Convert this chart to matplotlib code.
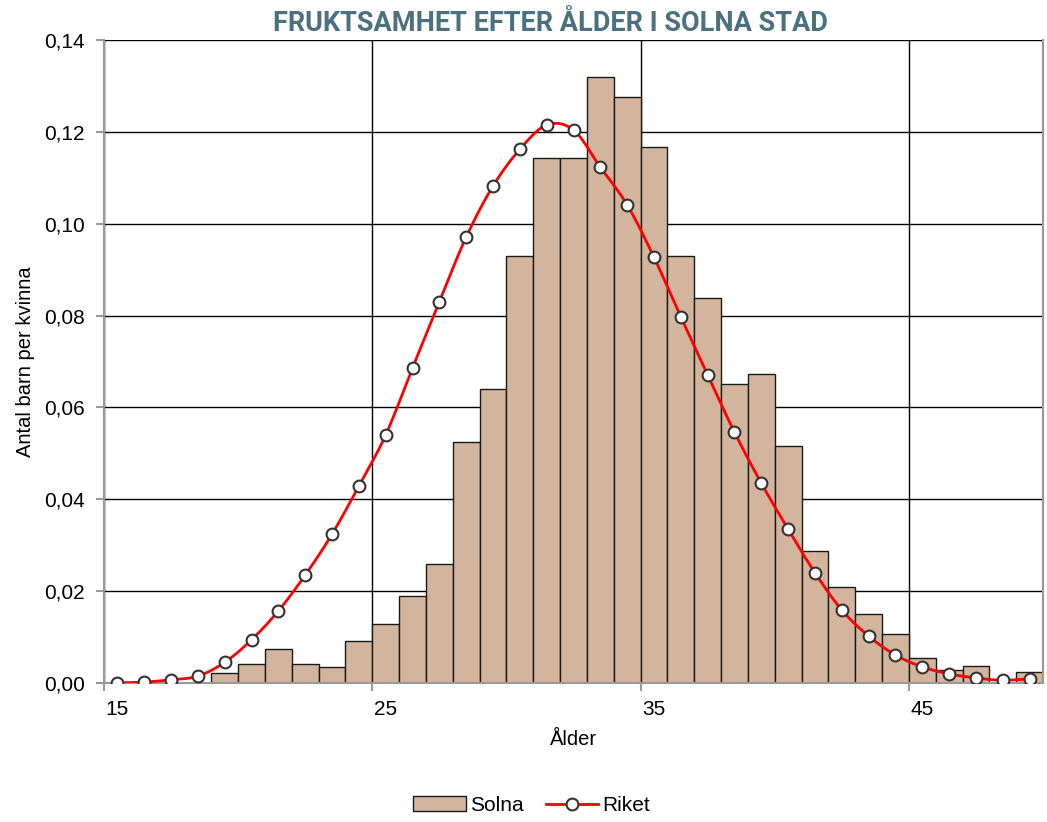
import numpy as np
import matplotlib
matplotlib.use("Agg")
import matplotlib.pyplot as plt
from matplotlib.ticker import FuncFormatter
from matplotlib.patches import Patch
from matplotlib.lines import Line2D

# data
ages = list(range(15, 50))
solna = [0.0, 0.0, 0.0, 0.0, 0.0022, 0.0041, 0.0074, 0.0041, 0.0035, 0.0091,
         0.0128, 0.0189, 0.0259, 0.0525, 0.0640, 0.0930, 0.1143, 0.1144, 0.1320, 0.1276,
         0.1167, 0.0930, 0.0838, 0.0651, 0.0673, 0.0516, 0.0287, 0.0209, 0.0150, 0.0107,
         0.0054, 0.0028, 0.0037, 0.0, 0.0024]
riket = [0.0000, 0.0002, 0.0007, 0.0015, 0.0045, 0.0094, 0.0157, 0.0235, 0.0324, 0.0429,
         0.0540, 0.0686, 0.0830, 0.0971, 0.1082, 0.1162, 0.1215, 0.1204, 0.1123, 0.1041,
         0.0927, 0.0797, 0.0671, 0.0546, 0.0435, 0.0335, 0.0240, 0.0159, 0.0102, 0.0061,
         0.0035, 0.0020, 0.0011, 0.0006, 0.0009]
label_ages = [15, 25, 35, 45]

title = "FRUKTSAMHET EFTER ÅLDER I SOLNA STAD"
narrow = ["Roboto", "DejaVu Sans"]
plain = ["Liberation Sans", "DejaVu Sans"]


def smooth(x, y, n=12):
    # catmull-rom curve through the points, like excel's smoothed line
    x = np.asarray(x, float)
    y = np.asarray(y, float)
    px = np.concatenate([[2 * x[0] - x[1]], x, [2 * x[-1] - x[-2]]])
    py = np.concatenate([[2 * y[0] - y[1]], y, [2 * y[-1] - y[-2]]])
    xs, ys = [], []
    t = np.linspace(0, 1, n, endpoint=False)
    for i in range(1, len(px) - 2):
        for p, out in ((px, xs), (py, ys)):
            p0, p1, p2, p3 = p[i - 1], p[i], p[i + 1], p[i + 2]
            out.extend(0.5 * (2 * p1 + (-p0 + p2) * t
                              + (2 * p0 - 5 * p1 + 4 * p2 - p3) * t ** 2
                              + (-p0 + 3 * p1 - 3 * p2 + p3) * t ** 3))
    xs.append(x[-1])
    ys.append(y[-1])
    return np.array(xs), np.array(ys)


fig = plt.figure(figsize=(10.47, 8.22), dpi=100)
ax = fig.add_axes([104 / 1047, 1 - 683 / 822, (1043 - 104) / 1047, (683 - 40) / 822])

ax.bar(ages, solna, width=1.0, color="#d2b59c", edgecolor="#1a1a1a", linewidth=1.0, zorder=2)
sx, sy = smooth(ages, riket)
ax.plot(sx, sy, color="#ff0000", linewidth=2, zorder=3)
ax.plot(ages, riket, linestyle="none", marker="o", markersize=8.5,
        markerfacecolor="white", markeredgecolor="#333333", markeredgewidth=1.5, zorder=4)

ax.set_xlim(14.5, 49.5)
ax.set_ylim(0, 0.14)
ax.set_yticks(np.arange(0, 0.141, 0.02))
ax.yaxis.set_major_formatter(FuncFormatter(lambda v, p: f"{v:.2f}".replace(".", ",")))
ax.set_xticks([14.5, 24.5, 34.5, 44.5])
ax.set_xticklabels([])
ax.set_xticks(label_ages, minor=True)
ax.set_xticklabels([str(a) for a in label_ages], minor=True, family=plain, fontsize=15)
ax.tick_params(axis="x", which="minor", length=0, pad=12)
ax.tick_params(axis="x", which="major", length=6, color="#999999", width=1.5)
ax.tick_params(axis="y", length=6, color="#999999", width=1.5, labelsize=15, pad=8)
for lab in ax.get_yticklabels():
    lab.set_family(plain)

ax.grid(True, which="major", color="black", linewidth=1.0, zorder=0)
ax.set_axisbelow(True)
for s in ["left", "bottom", "right"]:
    ax.spines[s].set_color("#999999")
    ax.spines[s].set_linewidth(1.5)
ax.spines["top"].set_visible(False)

ax.set_xlabel("Ålder", family=plain, fontsize=14.5, labelpad=8)
ax.set_ylabel("Antal barn per kvinna", family=plain, fontsize=14.5, labelpad=6)
fig.text(0.526, 0.972, title, ha="center", va="center", family=narrow,
         fontweight="bold", fontsize=19.5, color="#4b7080")

handles = [Patch(facecolor="#d2b59c", edgecolor="#1a1a1a", linewidth=1.0),
           Line2D([], [], color="#ff0000", linewidth=2, marker="o", markersize=8.5,
                  markerfacecolor="white", markeredgecolor="#333333", markeredgewidth=1.5)]
fig.legend(handles, ["Solna", "Riket"], loc="center", bbox_to_anchor=(0.508, 0.02),
           ncol=2, frameon=False, prop={"family": plain, "size": 15},
           handlelength=2.5, handletextpad=0.2, columnspacing=1.1)

fig.savefig("out.png", dpi=100)
